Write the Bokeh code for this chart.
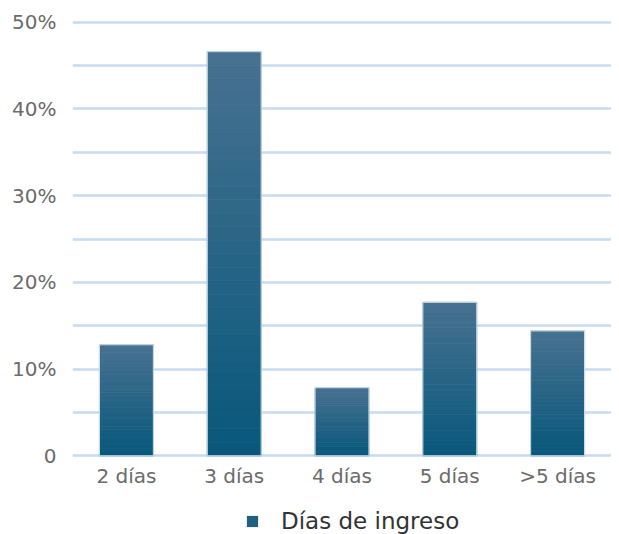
from bokeh.plotting import figure
from bokeh.models import FixedTicker, Legend, LegendItem
from bokeh.layouts import column
from bokeh.embed import file_html
from bokeh.resources import INLINE

categories = ["2 días", "3 días", "4 días", "5 días", ">5 días"]
values = [12.8, 46.6, 7.85, 17.7, 14.4]
y_ticks = [0, 10, 20, 30, 40, 50]
y_tick_labels = ["0", "10%", "20%", "30%", "40%", "50%"]
grid_ticks = [0, 5, 10, 15, 20, 25, 30, 35, 40, 45, 50]
series_name = "Días de ingreso"

FONT = "DejaVu Sans"

p = figure(x_range=categories, y_range=(-0.2, 50.2),
           width=611, height=496,
           output_backend="svg", toolbar_location=None,
           min_border_left=72, min_border_right=0, min_border_top=20, min_border_bottom=39)
p.x_range.range_padding = 0
p.outline_line_color = None
p.background_fill_color = "white"

# gradient bars (top lighter, bottom darker)
top_rgb = (0x48, 0x72, 0x91)
bot_rgb = (0x08, 0x58, 0x7c)
N = 30
xs, bots, tops, cols = [], [], [], []
for c, v in zip(categories, values):
    for i in range(N):
        t = (i + 0.5) / N
        r = int(bot_rgb[0] + (top_rgb[0] - bot_rgb[0]) * t)
        g = int(bot_rgb[1] + (top_rgb[1] - bot_rgb[1]) * t)
        b = int(bot_rgb[2] + (top_rgb[2] - bot_rgb[2]) * t)
        xs.append(c)
        bots.append(v * i / N)
        tops.append(v * (i + 1) / N)
        cols.append("#%02x%02x%02x" % (r, g, b))

p.vbar(x=xs, bottom=bots, top=tops, width=0.5, fill_color=cols,
       line_color=cols, line_width=0.8)
p.vbar(x=categories, top=values, width=0.5, fill_color=None,
       line_color="#d5e3ee", line_width=1)

# grid
p.xgrid.grid_line_color = None
p.ygrid.ticker = FixedTicker(ticks=grid_ticks)
p.ygrid.grid_line_color = "#c6dcf2"
p.ygrid.grid_line_width = 2.5
p.ygrid.level = "underlay"

# axes
p.yaxis.ticker = FixedTicker(ticks=y_ticks)
p.yaxis.major_label_overrides = {t: l for t, l in zip(y_ticks, y_tick_labels)}
p.yaxis.axis_line_color = None
p.yaxis.major_tick_line_color = None
p.yaxis.minor_tick_line_color = None
p.yaxis.major_label_text_font = FONT
p.yaxis.major_label_text_font_size = "20px"
p.yaxis.major_label_text_color = "#6b6b6b"
p.yaxis.major_label_standoff = 10

p.xaxis.axis_line_color = None
p.xaxis.major_tick_line_color = None
p.xaxis.minor_tick_line_color = None
p.xaxis.major_label_text_font = FONT
p.xaxis.major_label_text_font_size = "20px"
p.xaxis.major_label_text_color = "#6b6b6b"
p.xaxis.major_label_standoff = 0

# legend strip below the chart
p2 = figure(x_range=(0, 1), y_range=(0, 1), width=611, height=38,
            output_backend="svg", toolbar_location=None,
            min_border_left=0, min_border_right=0, min_border_top=0, min_border_bottom=0)
p2.axis.visible = False
p2.grid.grid_line_color = None
p2.outline_line_color = None
leg_r = p2.quad(left=[-10], right=[-9], bottom=[-10], top=[-9],
                fill_color="#1f5f80", line_color=None)
legend = Legend(items=[LegendItem(label=series_name, renderers=[leg_r])],
                location=(173, 0), orientation="horizontal",
                border_line_color=None, background_fill_alpha=0,
                label_text_font=FONT, label_text_font_size="23px",
                label_text_color="#333333", glyph_width=14, glyph_height=14,
                label_standoff=22, margin=0, padding=0)
p2.add_layout(legend, "center")

layout = column(p, p2, spacing=0)
open("out.html", "w").write(file_html(layout, INLINE))
